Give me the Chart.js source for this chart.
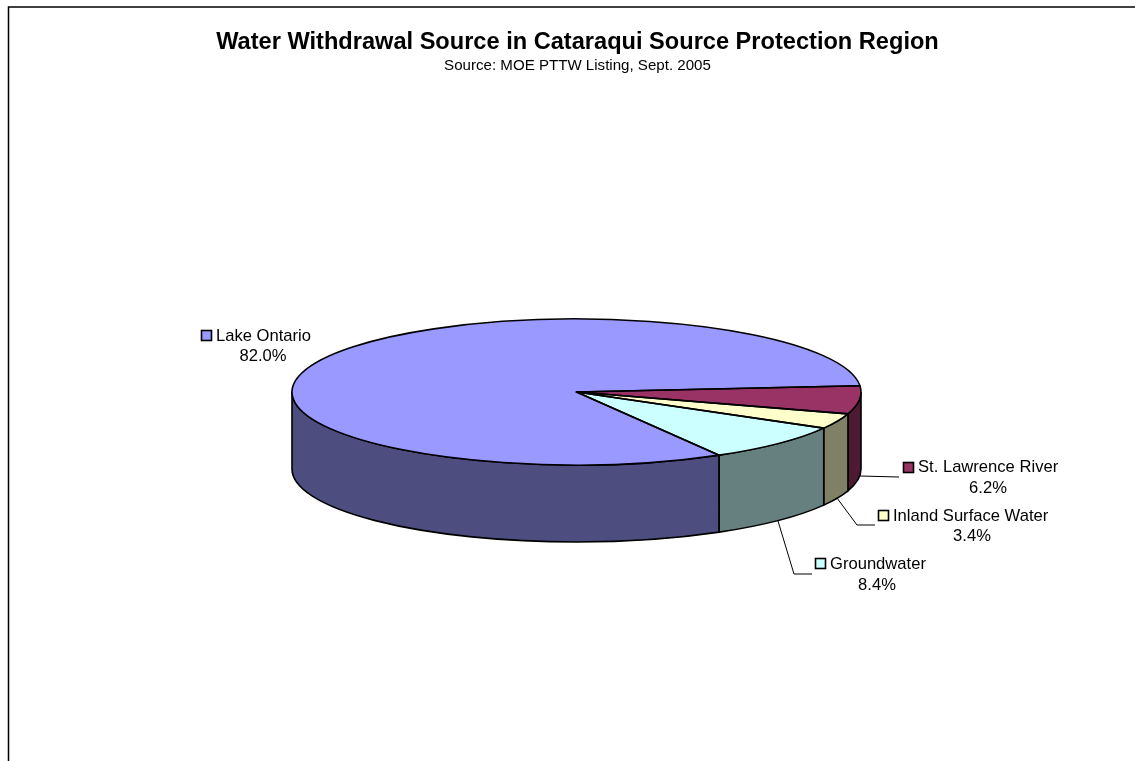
<!DOCTYPE html>
<html>
<head>
<meta charset="utf-8">
<title>Water Withdrawal Source</title>
<script src="https://cdn.jsdelivr.net/npm/chart.js@4"></script>
<style>
  html, body { margin: 0; padding: 0; background: #fff; overflow: hidden; }
  canvas { display: block; }
</style>
</head>
<body>
<canvas id="pieChart" width="1135" height="761"></canvas>
<script>
const categories = ['Lake Ontario', 'St. Lawrence River', 'Inland Surface Water', 'Groundwater'];
const shares = [82.0, 6.2, 3.4, 8.4];
const topColors = ['#9999ff', '#993366', '#ffffcc', '#ccffff'];
const wallColors = ['#4d4d80', '#4d1a33', '#808066', '#668080'];

// pie placement on the page
const CX = 576.5, CY = 392, RX = 284.5, RY = 73, DEPTH = 77;
const FONT = '"Liberation Sans", Arial, sans-serif';

// label boxes: key top-left, name left/baseline, percent centre/baseline, leader
const labelSpots = [
  { key: [201, 330], name: [216, 341], pct: [263, 361], leader: null },
  { key: [903, 462], name: [918, 472], pct: [988, 493], leader: [[860, 476], [899, 477]] },
  { key: [878, 510], name: [893, 521], pct: [972, 541], leader: [[837, 498], [857, 525], [875, 525]] },
  { key: [815, 558], name: [830, 569], pct: [877, 590], leader: [[778, 521], [794, 574], [812, 574]] }
];

const frame = {
  id: 'frame',
  beforeDraw(chart) {
    const c = chart.ctx;
    c.save();
    c.strokeStyle = '#000';
    c.lineWidth = 1.5;
    c.beginPath();
    c.moveTo(8.5, 761);
    c.lineTo(8.5, 7);
    c.lineTo(1135, 7);
    c.stroke();
    c.restore();
  }
};

const pie3d = {
  id: 'pie3d',
  beforeDatasetDraw(chart, args) {
    const c = chart.ctx;
    const arcs = chart.getDatasetMeta(args.index).data;
    c.save();
    c.strokeStyle = '#000';
    c.lineWidth = 1.6;
    arcs.forEach((arc, i) => {
      [0, Math.PI * 2].forEach(k => {
        const a = Math.max(arc.startAngle, k);
        const b = Math.min(arc.endAngle, k + Math.PI);
        if (a >= b) return;
        c.beginPath();
        c.ellipse(CX, CY, RX, RY, 0, a, b);
        c.ellipse(CX, CY + DEPTH, RX, RY, 0, b, a, true);
        c.closePath();
        c.fillStyle = wallColors[i];
        c.fill();
        c.stroke();
      });
    });
    c.restore();
    // squash the real arcs into the top face
    const first = arcs[0];
    c.save();
    c.translate(CX, CY);
    c.scale(RX / first.outerRadius, RY / first.outerRadius);
    c.translate(-first.x, -first.y);
  },
  afterDatasetDraw(chart, args) {
    const c = chart.ctx;
    c.restore();
    c.save();
    c.strokeStyle = '#000';
    c.lineWidth = 1.6;
    c.lineJoin = 'round';
    chart.getDatasetMeta(args.index).data.forEach(arc => {
      c.beginPath();
      c.moveTo(CX, CY);
      c.ellipse(CX, CY, RX, RY, 0, arc.startAngle, arc.endAngle);
      c.closePath();
      c.stroke();
    });
    c.restore();
  }
};

const sliceLabels = {
  id: 'sliceLabels',
  afterDraw(chart) {
    const c = chart.ctx;
    c.save();
    c.fillStyle = '#000';
    c.textBaseline = 'alphabetic';
    c.font = '16.6px ' + FONT;
    categories.forEach((name, i) => {
      const s = labelSpots[i];
      if (s.leader) {
        c.beginPath();
        s.leader.forEach((p, j) => j ? c.lineTo(p[0], p[1]) : c.moveTo(p[0], p[1]));
        c.strokeStyle = '#000';
        c.lineWidth = 1;
        c.stroke();
      }
      c.fillStyle = topColors[i];
      c.fillRect(s.key[0], s.key[1], 10, 10);
      c.strokeStyle = '#000';
      c.lineWidth = 1.6;
      c.strokeRect(s.key[0] + 0.5, s.key[1] + 0.5, 10, 10);
      c.fillStyle = '#000';
      c.textAlign = 'left';
      c.fillText(name, s.name[0], s.name[1]);
      c.textAlign = 'center';
      c.fillText(shares[i].toFixed(1) + '%', s.pct[0], s.pct[1]);
    });
    c.restore();
  }
};

new Chart(document.getElementById('pieChart'), {
  type: 'pie',
  data: {
    labels: categories,
    datasets: [{
      data: shares,
      backgroundColor: topColors,
      borderWidth: 0
    }]
  },
  options: {
    responsive: false,
    animation: false,
    rotation: 149.9,
    radius: 200,
    layout: { padding: { left: 20 } },
    events: [],
    plugins: {
      legend: { display: false },
      tooltip: { enabled: false },
      title: {
        display: true,
        text: 'Water Withdrawal Source in Cataraqui Source Protection Region',
        color: '#000',
        font: { family: FONT, size: 23.6, weight: 'bold' },
        padding: { top: 28, bottom: 0 }
      },
      subtitle: {
        display: true,
        text: 'Source: MOE PTTW Listing, Sept. 2005',
        color: '#000',
        font: { family: FONT, size: 15.1, weight: 'normal' },
        padding: { top: 0, bottom: 0 }
      }
    }
  },
  plugins: [frame, pie3d, sliceLabels]
});
</script>
</body>
</html>
